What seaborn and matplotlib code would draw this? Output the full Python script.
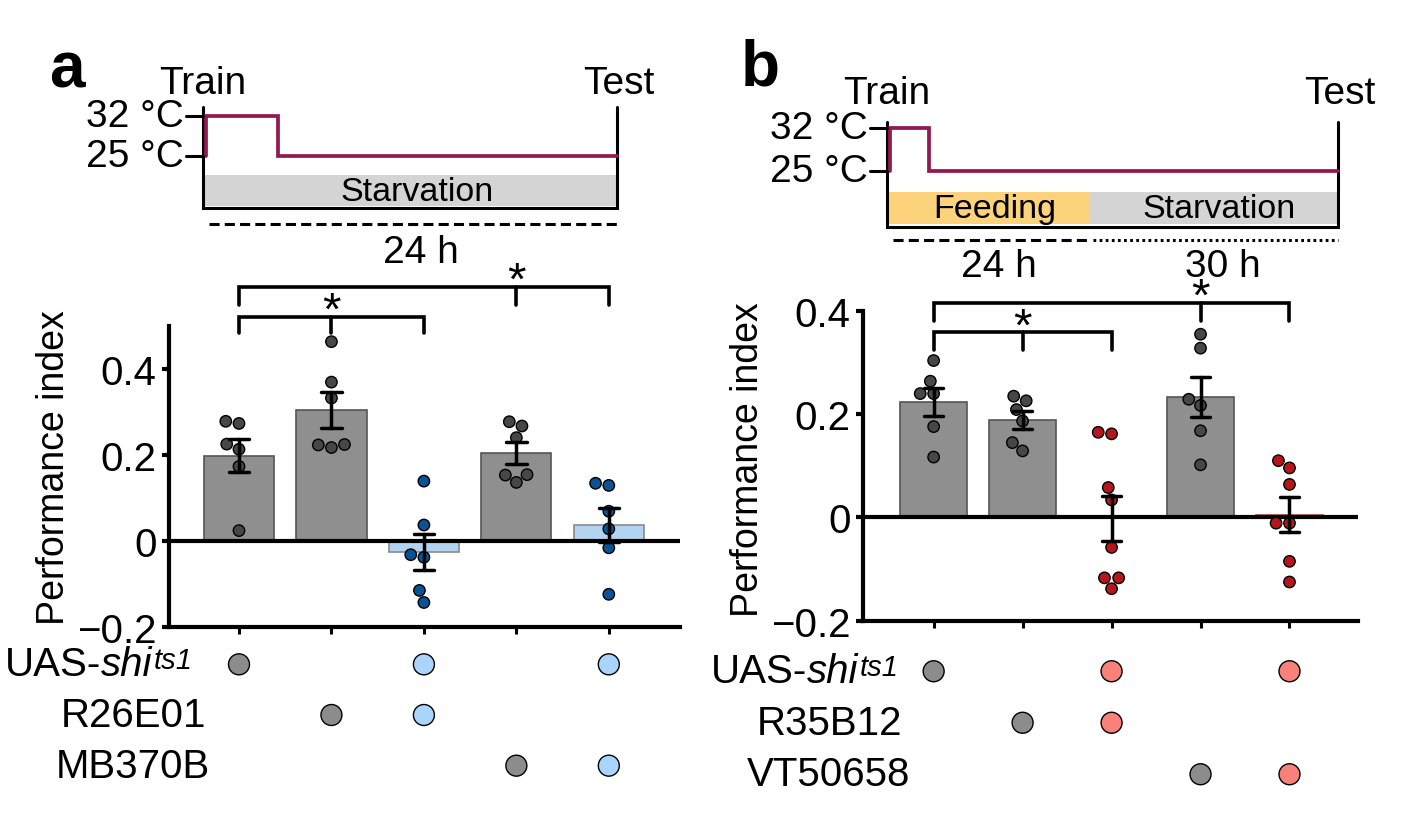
import numpy as np
import pandas as pd
import matplotlib
matplotlib.use("Agg")
import matplotlib.pyplot as plt
from matplotlib.patches import Rectangle
from matplotlib.transforms import blended_transform_factory
import seaborn as sns

sns.set_theme(style="white")
plt.rcParams["font.family"] = ["Liberation Sans", "DejaVu Sans"]
plt.rcParams["text.color"] = "black"
plt.rcParams["axes.labelcolor"] = "black"
plt.rcParams["xtick.color"] = "black"
plt.rcParams["ytick.color"] = "black"

# ---- values ----
groups = ["uas_ctrl", "gal4_ctrl1", "exp1", "gal4_ctrl2", "exp2"]

pi_a = [
    [0.273, 0.278, 0.213, 0.225, 0.173, 0.024],
    [0.463, 0.369, 0.332, 0.217, 0.224, 0.223],
    [0.139, 0.037, -0.038, -0.032, -0.115, -0.143],
    [0.267, 0.277, 0.240, 0.136, 0.154, 0.153],
    [0.129, 0.134, 0.069, 0.028, -0.016, -0.124],
]
pi_b = [
    [0.304, 0.264, 0.240, 0.240, 0.176, 0.117],
    [0.226, 0.235, 0.209, 0.187, 0.145, 0.129],
    [0.162, 0.165, 0.058, 0.034, -0.058, -0.117, -0.117, -0.138],
    [0.355, 0.328, 0.217, 0.229, 0.168, 0.102],
    [0.110, 0.096, 0.064, -0.011, -0.011, -0.085, -0.125],
]

yticks_a = [-0.2, 0, 0.2, 0.4]
yticks_b = [-0.2, 0, 0.2, 0.4]
ytick_labels = ["\u22120.2", "0", "0.2", "0.4"]

# genotype table under each panel (1 = present); first row is UAS-shi^ts1
rows_a = ["UAS-shi", "R26E01", "MB370B"]
rows_b = ["UAS-shi", "R35B12", "VT50658"]
geno = [[1, 0, 1, 0, 1],
        [0, 1, 1, 0, 0],
        [0, 0, 0, 1, 1]]
is_exp = [False, False, True, False, True]

# significance brackets: (left bar, right bar, top, foot)
brackets_a = [(0, 2, 0.520, 0.483), (0, 4, 0.590, 0.548)]
brackets_b = [(0, 2, 0.3585, 0.325), (0, 4, 0.415, 0.381)]

# protocol schematics: (label, start h, end h, colour, line style)
phases_a = [("Starvation", 0, 24, "#d4d4d4", (0, (3.3, 1.7)))]
phases_b = [("Feeding", 0, 24, "#fcd37b", (0, (3.3, 1.7))),
            ("Starvation", 24, 54, "#d4d4d4", (0, (0.9, 1.1)))]
heat_a, heat_b = 4.25, 4.8

GRAY_BAR, GRAY_PT, GRAY_DOT = "#8f8f8f", "#474747", "#8c8c8c"
BLUE_BAR, BLUE_PT, BLUE_DOT = "#a9d5fb", "#0b5394", "#a9d5fc"
RED_BAR, RED_PT, RED_DOT = "#f6a5a0", "#b5161b", "#f8817a"
PURPLE = "#931a50"
FS = 28

W, H = 1403, 828
fig = plt.figure(figsize=(W / 100, H / 100), dpi=100)
ov = fig.add_axes([0, 0, 1, 1])
ov.set_xlim(0, W)
ov.set_ylim(H, 0)
ov.axis("off")


def px_axes(left, top, right, bottom):
    ax = fig.add_axes([left / W, 1 - bottom / H, (right - left) / W, (bottom - top) / H])
    ax.set_facecolor("none")
    return ax


def schematic(x0, x1, total, heat, phases, top, y32, y25, r0, r1, base, dash_y, time_y, lab_y):
    hx = lambda h: x0 + (x1 - x0) * h / total
    for name, h0, h1, col, ls in phases:
        ov.add_patch(Rectangle((hx(h0), r0), hx(h1) - hx(h0), r1 - r0, fc=col, ec="none"))
        mid = (hx(h0) + hx(h1)) / 2
        ov.text(mid + 6, (r0 + r1) / 2 + 1, name, ha="center", va="center", fontsize=24.5)
        ov.plot([hx(h0) + 4, hx(h1)], [dash_y, dash_y], color="black", lw=2.2, ls=ls)
        ov.text(mid + 10, time_y, f"{h1 - h0:g} h", ha="center", va="center", fontsize=FS)
    ov.plot([x0 - 2, x0 - 2, x1, x1], [top, base, base, top], color="black", lw=2.2,
            solid_joinstyle="miter")
    ov.plot([x0 + 1, x0 + 1, hx(heat), hx(heat), x1], [y25, y32, y32, y25, y25],
            color=PURPLE, lw=2.7, solid_joinstyle="miter")
    for yy, lab in [(y32, "32 \u00b0C"), (y25, "25 \u00b0C")]:
        ov.plot([x0 - 19, x0 - 2], [yy, yy], color="black", lw=2.2)
        ov.text(x0 - 21, yy, lab, ha="right", va="center", fontsize=FS)
    ov.text(x0 - 2, lab_y, "Train", ha="center", va="center", fontsize=FS)
    ov.text(x1 + 2, lab_y, "Test", ha="center", va="center", fontsize=FS)


def bar_panel(ax, values, bar_cols, edge_cols, pt_cols, ylim, yticks, xlim, brackets):
    df = pd.DataFrame({"group": [g for g, v in zip(groups, values) for _ in v],
                       "pi": [x for v in values for x in v]})
    sns.barplot(data=df, x="group", y="pi", hue="group", order=groups, hue_order=groups,
                palette=dict(zip(groups, bar_cols)), legend=False, errorbar="se",
                capsize=0.22, width=0.76, linewidth=1.2, edgecolor="#555555",
                err_kws={"color": "black", "linewidth": 2.5, "zorder": 6}, ax=ax)
    for patch, ec in zip(ax.patches, edge_cols):
        patch.set_edgecolor(ec)
    sns.swarmplot(data=df, x="group", y="pi", hue="group", order=groups, hue_order=groups,
                  palette=dict(zip(groups, pt_cols)), legend=False, size=8.2,
                  edgecolor="black", linewidth=1, zorder=4, ax=ax)
    ax.axhline(0, color="black", lw=3, zorder=3)
    ax.set_xlim(*xlim)
    ax.set_ylim(*ylim)
    ax.set_yticks(yticks)
    ax.set_yticklabels(ytick_labels)
    ax.set_xticks(range(len(groups)))
    ax.set_xticklabels([])
    ax.set_xlabel("")
    ax.set_ylabel("Performance index", fontsize=27)
    ax.yaxis.label.set_va("center")
    ax.tick_params(axis="y", length=5, width=3, pad=4, labelsize=29, left=True)
    ax.tick_params(axis="x", length=5, width=2.2, bottom=True)
    sns.despine(ax=ax)
    for s in ["left", "bottom"]:
        ax.spines[s].set_linewidth(3)
        ax.spines[s].set_color("black")
    for left, right, top, foot in brackets:
        mid = right - 1
        ax.plot([left, left, right, right], [foot, top, top, foot], color="black", lw=2.6,
                clip_on=False, solid_joinstyle="miter")
        ax.plot([mid, mid], [top, foot], color="black", lw=2.6, clip_on=False)
        ax.annotate("*", (mid, top), xytext=(0, -5), textcoords="offset points",
                    ha="center", va="baseline", fontsize=34, annotation_clip=False)


def geno_panel(gax, rows, xlim, dot_exp, uas_x, label_x):
    recs = [(c, r, "exp" if is_exp[c] else "ctrl")
            for r, row in enumerate(geno) for c, flag in enumerate(row) if flag]
    gdf = pd.DataFrame(recs, columns=["col", "row", "kind"])
    sns.scatterplot(data=gdf, x="col", y="row", hue="kind",
                    palette={"ctrl": GRAY_DOT, "exp": dot_exp}, s=228, edgecolor="black",
                    linewidth=1, legend=False, clip_on=False, ax=gax)
    gax.set_xlim(*xlim)
    gax.set_ylim(2.5, -0.5)
    gax.axis("off")
    tr = blended_transform_factory(ov.transData, gax.transData)
    # first row: UAS-shi^ts1 with italic gene name and larger superscript
    t1 = gax.text(uas_x, 0, "UAS-", ha="left", va="center", fontsize=29, transform=tr)
    t2 = gax.annotate(rows[0][4:], xy=(1, 0), xycoords=t1, ha="left", va="bottom",
                      fontsize=29, style="italic")
    gax.annotate("ts1", xy=(1.01, 0.97), xycoords=t2, ha="left", va="top",
                 fontsize=21, style="italic")
    for r, lab in enumerate(rows[1:], start=1):
        gax.text(label_x, r, lab, ha="center", va="center", fontsize=29, transform=tr)


# ---- panel a ----
xlim_a = (-0.757, 4.77)
ax_a = px_axes(169, 326.75, 680, 628)
bar_panel(ax_a, pi_a, [GRAY_BAR, GRAY_BAR, BLUE_BAR, GRAY_BAR, BLUE_BAR],
          ["#555555", "#555555", "#8a8a8a", "#555555", "#8a8a8a"],
          [GRAY_PT, GRAY_PT, BLUE_PT, GRAY_PT, BLUE_PT], (-0.2, 0.5), yticks_a, xlim_a,
          brackets_a)
ax_a.yaxis.set_label_coords((54 - 169) / 511, (628 - 468) / 301.25)
geno_panel(px_axes(169, 640, 680, 792), rows_a, xlim_a, BLUE_DOT, 5, 133)
schematic(205, 617, 24, heat_a, phases_a, 108, 117, 157, 176, 207, 209, 225, 253, 84)
ov.text(67, 70, "a", ha="center", va="center", fontsize=46, fontweight="bold")

# ---- panel b ----
xlim_b = (-0.794, 4.77)
ax_b = px_axes(863, 312, 1358, 621.7)
bar_panel(ax_b, pi_b, [GRAY_BAR, GRAY_BAR, RED_BAR, GRAY_BAR, RED_BAR],
          ["#555555", "#555555", "#b0474a", "#555555", "#b0474a"],
          [GRAY_PT, GRAY_PT, RED_PT, GRAY_PT, RED_PT], (-0.2, 0.4), yticks_b, xlim_b,
          brackets_b)
ax_b.yaxis.set_label_coords((748 - 863) / 495, (621.7 - 460) / 309.7)
geno_panel(px_axes(863, 646.5, 1358, 801), rows_b, xlim_b, RED_DOT, 711, 829)
schematic(889, 1338, 54, heat_b, phases_b, 123, 129, 172, 193, 225, 228, 241, 267, 94)
ov.text(760, 68, "b", ha="center", va="center", fontsize=46, fontweight="bold")

fig.savefig("out.png", dpi=100)
plt.close(fig)
